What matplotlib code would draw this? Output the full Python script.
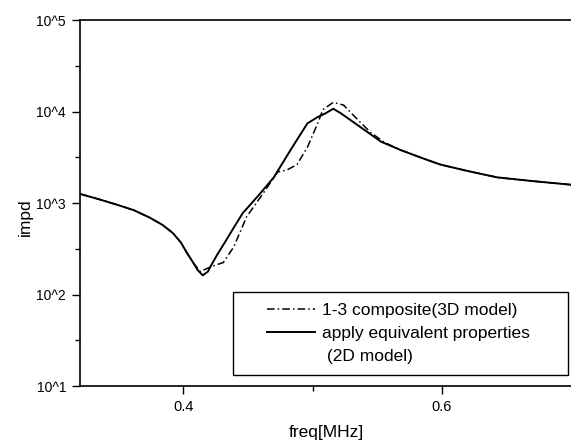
import matplotlib
matplotlib.use('Agg')
import matplotlib.pyplot as plt
from matplotlib.patches import Rectangle

plt.rcParams['font.family'] = ['Liberation Sans', 'DejaVu Sans']

# solid curve: equivalent properties (2D model)
freq_2d = [0.320, 0.335, 0.349, 0.362, 0.374, 0.384, 0.392, 0.398, 0.403, 0.408,
           0.411, 0.415, 0.419, 0.422, 0.426, 0.433, 0.439, 0.446, 0.458, 0.470,
           0.483, 0.496, 0.504, 0.510, 0.516, 0.522, 0.529, 0.542, 0.553, 0.568,
           0.585, 0.599, 0.620, 0.643, 0.670, 0.700]
impd_2d = [1259, 1096, 955, 832, 692, 575, 468, 372, 282, 219,
           186, 162, 178, 214, 269, 389, 537, 776, 1202, 1905,
           3802, 7413, 8710, 9550, 10715, 9550, 8128, 6026, 4677, 3802,
           3090, 2630, 2239, 1905, 1738, 1585]

# dash-dot curve: 1-3 composite (3D model)
freq_3d = [0.320, 0.335, 0.349, 0.362, 0.374, 0.384, 0.392, 0.398, 0.403, 0.408,
           0.413, 0.421, 0.431, 0.439, 0.449, 0.462, 0.473, 0.480, 0.488, 0.496,
           0.504, 0.508, 0.516, 0.524, 0.535, 0.545, 0.556, 0.568, 0.585, 0.599,
           0.620, 0.643, 0.670, 0.700]
impd_3d = [1259, 1096, 955, 832, 692, 575, 468, 372, 282, 219,
           178, 200, 224, 331, 708, 1288, 2188, 2291, 2630, 4074,
           7413, 10471, 12589, 11749, 8128, 5888, 4571, 3802, 3090, 2630,
           2239, 1905, 1738, 1585]

x_ticks = [0.4, 0.6]
x_ticklabels = ['0.4', '0.6']
y_ticks = [10, 100, 1000, 10000, 100000]
y_ticklabels = ['10^1', '10^2', '10^3', '10^4', '10^5']

fig = plt.figure(figsize=(5.71, 4.41), dpi=100)
ax = fig.add_axes([0.140, 0.1247, 0.860, 0.8299])

ax.semilogy(freq_3d, impd_3d, color='black', lw=1.1, linestyle=(0, (5, 2, 1, 2)),
            label='1-3 composite(3D model)')
ax.semilogy(freq_2d, impd_2d, color='black', lw=1.4, linestyle='-',
            label='apply equivalent properties')
# second line of the legend text, no handle
ax.plot([], [], color='none', label=' (2D model)')

ax.set_xlim(0.32, 0.70)
ax.set_ylim(10, 100000)

ax.set_xticks(x_ticks)
ax.set_xticklabels(x_ticklabels)
ax.set_xticks([0.5], minor=True)
ax.set_yticks(y_ticks)
ax.set_yticklabels(y_ticklabels)
ax.set_yticks([10 ** 1.5, 10 ** 2.5, 10 ** 3.5, 10 ** 4.5], minor=True)
ax.set_yticklabels([], minor=True)
ax.tick_params(which='major', direction='out', length=6, width=1, pad=4)
ax.tick_params(which='minor', direction='out', length=3.5, width=1)
ax.tick_params(axis='x', labelsize=10.5)
ax.tick_params(axis='y', labelsize=10)

ax.spines['right'].set_visible(False)
for s in ['left', 'bottom', 'top']:
    ax.spines[s].set_linewidth(1.2)

ax.set_xlabel('freq[MHz]', fontsize=12.5, va='center')
ax.xaxis.set_label_coords(0.501, -0.126)
ax.set_ylabel('impd', fontsize=12.5, va='center')
ax.yaxis.set_label_coords(-0.112, 0.462)

# legend box
ax.add_patch(Rectangle((0.312, 0.030), 0.682, 0.227, transform=ax.transAxes,
                       fill=False, edgecolor='black', lw=1.0))
ax.legend(loc='upper left', bbox_to_anchor=(0.381, 0.227), frameon=False,
          fontsize=12.5, borderpad=0, borderaxespad=0, handlelength=2.75,
          handletextpad=0.4, labelspacing=0.45)

fig.savefig('out.png', dpi=100)
